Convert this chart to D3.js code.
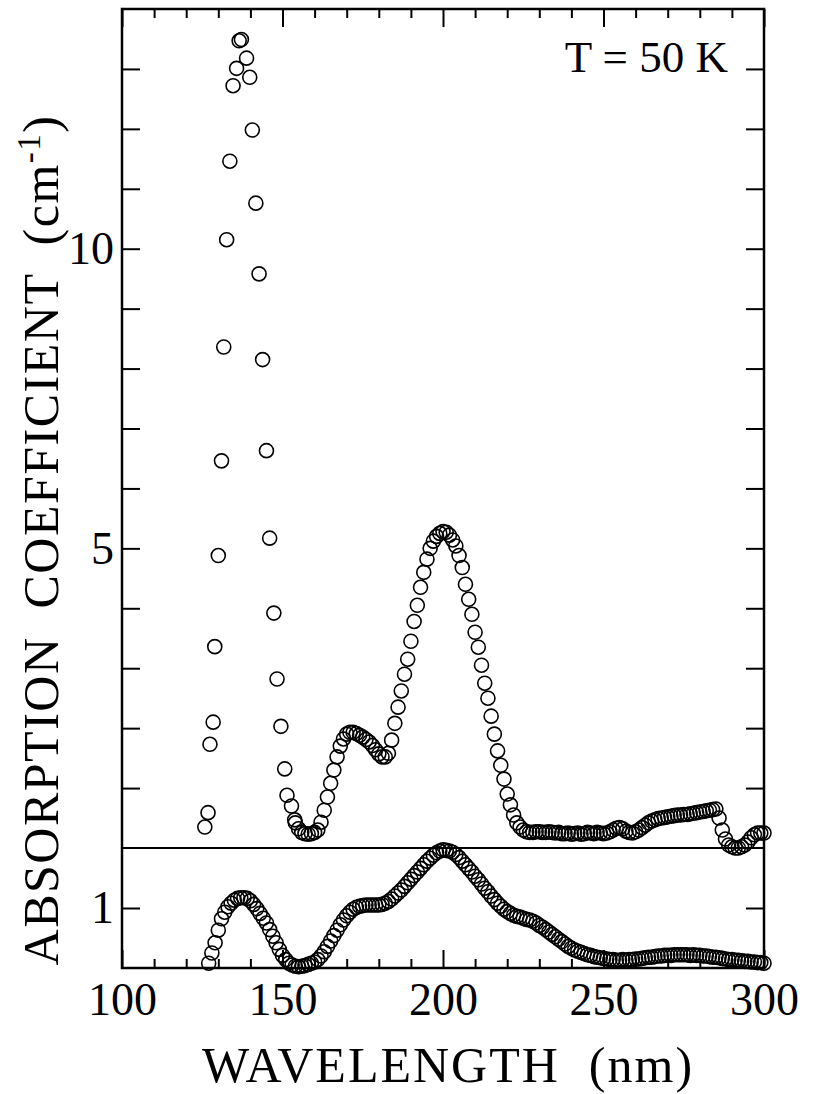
<!DOCTYPE html>
<html>
<head>
<meta charset="utf-8">
<script src="https://cdn.jsdelivr.net/npm/d3@7"></script>
<style>
  body { margin: 0; background: #fff; }
  text { font-family: "Liberation Serif", "Times New Roman", serif; fill: #000; }
</style>
</head>
<body>
<svg id="chart" width="813" height="1094"></svg>
<script>
// upper curve, sparse points of the big peak (nm, cm-1)
const peakNm = [125.8, 126.8, 127.4, 128.4, 128.9, 130.0, 131.0, 131.7, 132.6, 133.6, 134.6, 135.7, 136.5,
                137.2, 138.8, 139.8, 140.6, 141.7, 142.7, 143.8, 145.0, 146.0, 147.3, 148.3, 149.5, 150.7,
                151.4, 152.8, 153.8];
const peakVal = [0.35, 0.59, 1.73, 2.10, 3.36, 4.88, 6.46, 8.36, 10.15, 11.46, 12.72, 13.01, 13.47,
                 13.49, 13.18, 12.86, 11.98, 10.76, 9.58, 8.15, 6.63, 5.17, 3.92, 2.82, 2.03, 1.32,
                 0.88, 0.70, 0.47];

// upper curve, dense part: one value per nm from 154 nm
const upperStart = 154;
const upperVal = [
  0.42, 0.32, 0.26, 0.24, 0.23, 0.24, 0.26, 0.30, 0.43, 0.63,   // 154-163
  0.85, 1.08, 1.30, 1.52, 1.70, 1.82, 1.90, 1.93, 1.93, 1.91,   // 164-173
  1.88, 1.85, 1.81, 1.77, 1.71, 1.64, 1.57, 1.52, 1.52, 1.58,   // 174-183
  1.80, 2.08, 2.35, 2.62, 2.90, 3.15, 3.45, 3.78, 4.05, 4.35,   // 184-193
  4.60, 4.82, 5.00, 5.12, 5.20, 5.25, 5.28, 5.27, 5.22, 5.14,   // 194-203
  5.04, 4.88, 4.68, 4.40, 4.15, 3.90, 3.60, 3.35, 3.05, 2.75,   // 204-213
  2.50, 2.20, 1.90, 1.62, 1.38, 1.15, 0.90, 0.72, 0.55, 0.42,   // 214-223
  0.35, 0.30, 0.27, 0.26, 0.26, 0.27, 0.27, 0.26, 0.26, 0.27,   // 224-233
  0.26, 0.25, 0.26, 0.24, 0.24, 0.25, 0.23, 0.24, 0.25, 0.23,   // 234-243
  0.24, 0.26, 0.25, 0.24, 0.26, 0.25, 0.24, 0.25, 0.27, 0.30,   // 244-253
  0.33, 0.34, 0.32, 0.28, 0.26, 0.25, 0.27, 0.30, 0.34, 0.38,   // 254-263
  0.42, 0.45, 0.47, 0.49, 0.50, 0.51, 0.52, 0.53, 0.54, 0.55,   // 264-273
  0.55, 0.56, 0.56, 0.57, 0.58, 0.59, 0.60, 0.61, 0.62, 0.63,   // 274-283
  0.64, 0.65, 0.50, 0.30, 0.15, 0.05, 0.02, 0.00, 0.00, 0.02,   // 284-293
  0.05, 0.10, 0.17, 0.22, 0.25, 0.25, 0.25                      // 294-300
];

// lower curve: one value per nm from 127 nm
const lowerStart = 127;
const lowerVal = [
  0.08, 0.25, 0.42, 0.63, 0.82, 0.93, 1.02, 1.08, 1.13, 1.16,   // 127-136
  1.17, 1.17, 1.16, 1.12, 1.06, 0.99, 0.91, 0.83, 0.75, 0.64,   // 137-146
  0.53, 0.42, 0.31, 0.21, 0.14, 0.08, 0.05, 0.03, 0.02, 0.03,   // 147-156
  0.04, 0.06, 0.08, 0.10, 0.14, 0.20, 0.27, 0.36, 0.45, 0.54,   // 157-166
  0.63, 0.72, 0.80, 0.87, 0.93, 0.98, 1.01, 1.03, 1.04, 1.05,   // 167-176
  1.05, 1.05, 1.05, 1.05, 1.06, 1.08, 1.11, 1.15, 1.20, 1.25,   // 177-186
  1.30, 1.36, 1.42, 1.48, 1.54, 1.60, 1.66, 1.72, 1.78, 1.83,   // 187-196
  1.88, 1.92, 1.95, 1.97, 1.96, 1.95, 1.93, 1.89, 1.84, 1.78,   // 197-206
  1.72, 1.66, 1.60, 1.53, 1.47, 1.40, 1.33, 1.27, 1.20, 1.14,   // 207-216
  1.08, 1.03, 0.98, 0.94, 0.91, 0.88, 0.86, 0.85, 0.83, 0.81,   // 217-226
  0.80, 0.78, 0.75, 0.71, 0.68, 0.64, 0.60, 0.56, 0.52, 0.48,   // 227-236
  0.44, 0.40, 0.36, 0.33, 0.30, 0.28, 0.26, 0.24, 0.22, 0.21,   // 237-246
  0.19, 0.18, 0.17, 0.16, 0.15, 0.14, 0.14, 0.13, 0.13, 0.14,   // 247-256
  0.13, 0.14, 0.14, 0.15, 0.15, 0.16, 0.17, 0.18, 0.18, 0.19,   // 257-266
  0.20, 0.20, 0.21, 0.21, 0.21, 0.22, 0.22, 0.22, 0.22, 0.22,   // 267-276
  0.21, 0.22, 0.21, 0.21, 0.20, 0.20, 0.19, 0.18, 0.18, 0.17,   // 277-286
  0.16, 0.15, 0.14, 0.14, 0.13, 0.13, 0.12, 0.11, 0.11, 0.10,   // 287-296
  0.10, 0.09, 0.09, 0.08                                        // 297-300
];

const xMinorTicks = [110, 120, 130, 140, 160, 170, 180, 190, 210, 220, 230, 240, 260, 270, 280, 290];
const xMajorTicks = [100, 150, 200, 250, 300];
const yUpperTicks = [1, 2, 3, 4, 5, 6, 7, 8, 9, 10, 11, 12, 13];
const yUpperLabels = [5, 10];
const yLowerTicks = [1];

const plotLeft = 122, plotRight = 764, plotTop = 9, plotBottom = 968, split = 848;

const svg = d3.select("#chart");

const x = d3.scaleLinear([100, 300], [plotLeft, plotRight]);
const yUp = d3.scaleLinear([0, 14], [split, plotTop]);
const yLow = d3.scaleLinear([0, 2], [plotBottom, split]);

// build point lists
const upperPts = peakNm.map((w, i) => [w, peakVal[i]])
  .concat(upperVal.map((v, i) => [upperStart + i, v]));
const lowerPts = lowerVal.map((v, i) => [lowerStart + i, v]);

// ticks (all pointing inward)
const tickLen = 18;
function yTicks(scale, values, labels) {
  svg.append("g")
     .attr("transform", `translate(${plotLeft},0)`)
     .call(d3.axisLeft(scale).tickValues(values).tickSizeInner(-tickLen).tickSizeOuter(0)
             .tickPadding(8).tickFormat(d => labels.includes(d) ? d : ""))
     .call(g => g.select(".domain").remove())
     .call(g => g.selectAll("line").attr("stroke", "#000").attr("stroke-width", 2))
     .call(g => g.selectAll("text").attr("font-size", 46).attr("fill", "#000")
                 .style("font-family", "'Liberation Serif', serif"));
  svg.append("g")
     .attr("transform", `translate(${plotRight},0)`)
     .call(d3.axisRight(scale).tickValues(values).tickSizeInner(-tickLen).tickSizeOuter(0).tickFormat(""))
     .call(g => g.select(".domain").remove())
     .call(g => g.selectAll("line").attr("stroke", "#000").attr("stroke-width", 2));
}
yTicks(yUp, yUpperTicks, yUpperLabels);
yTicks(yLow, yLowerTicks, [1]);

function xTicks(values, len, withLabels) {
  svg.append("g")
     .attr("transform", `translate(0,${plotBottom})`)
     .call(d3.axisBottom(x).tickValues(values).tickSizeInner(-len).tickSizeOuter(0)
             .tickPadding(14).tickFormat(withLabels ? d3.format("d") : ""))
     .call(g => g.select(".domain").remove())
     .call(g => g.selectAll("line").attr("stroke", "#000").attr("stroke-width", 2))
     .call(g => g.selectAll("text").attr("font-size", 46).attr("fill", "#000")
                 .style("font-family", "'Liberation Serif', serif"));
  svg.append("g")
     .attr("transform", `translate(0,${plotTop})`)
     .call(d3.axisTop(x).tickValues(values).tickSizeInner(-len).tickSizeOuter(0).tickFormat(""))
     .call(g => g.select(".domain").remove())
     .call(g => g.selectAll("line").attr("stroke", "#000").attr("stroke-width", 2));
}
xTicks(xMinorTicks, 9, false);
xTicks(xMajorTicks, 18, true);

// frame and the baseline of the upper curve
svg.append("rect")
   .attr("x", plotLeft).attr("y", plotTop)
   .attr("width", plotRight - plotLeft).attr("height", plotBottom - plotTop)
   .attr("fill", "none").attr("stroke", "#000").attr("stroke-width", 2.5);

svg.append("line")
   .attr("x1", plotLeft).attr("x2", plotRight)
   .attr("y1", yUp(0)).attr("y2", yUp(0))
   .attr("stroke", "#000").attr("stroke-width", 2.2);

// data points
svg.append("g")
   .selectAll("circle")
   .data(upperPts)
   .join("circle")
   .attr("cx", d => x(d[0]))
   .attr("cy", d => yUp(d[1]))
   .attr("r", 7)
   .attr("fill", "none")
   .attr("stroke", "#000")
   .attr("stroke-width", 1.6);

svg.append("g")
   .selectAll("circle")
   .data(lowerPts)
   .join("circle")
   .attr("cx", d => x(d[0]))
   .attr("cy", d => yLow(d[1]))
   .attr("r", 7)
   .attr("fill", "none")
   .attr("stroke", "#000")
   .attr("stroke-width", 1.6);

// labels
svg.append("text")
   .attr("x", 728).attr("y", 72)
   .attr("text-anchor", "end")
   .attr("font-size", 45)
   .text("T = 50 K");

svg.append("text")
   .attr("x", 448).attr("y", 1082)
   .attr("text-anchor", "middle")
   .attr("font-size", 50)
   .attr("letter-spacing", 2)
   .style("white-space", "pre")
   .text("WAVELENGTH  (nm)");

const yTitle = svg.append("text")
   .attr("transform", "translate(58,540) rotate(-90)")
   .attr("text-anchor", "middle")
   .attr("font-size", 50)
   .attr("letter-spacing", 1.5)
   .style("white-space", "pre");
yTitle.append("tspan").text("ABSORPTION  COEFFICIENT  (cm");
yTitle.append("tspan").attr("font-size", 33).attr("dy", -18).text("-1");
yTitle.append("tspan").attr("dy", 18).text(")");
</script>
</body>
</html>
